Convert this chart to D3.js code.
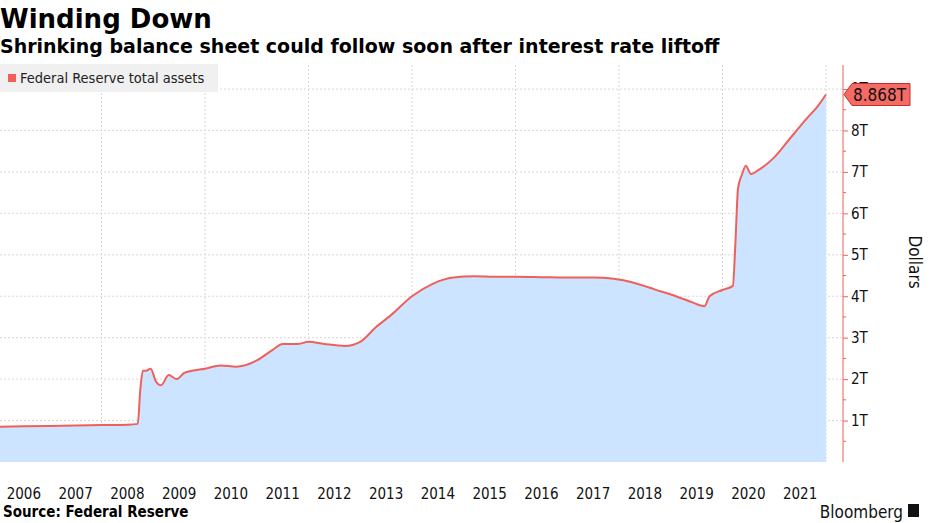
<!DOCTYPE html>
<html><head><meta charset="utf-8">
<script src="https://cdn.jsdelivr.net/npm/d3@7"></script>
<style>body{margin:0;background:#fff}svg{display:block}</style>
</head><body><svg id="c" width="930" height="523"></svg>
<script>
// Fed total assets, trillions, by decimal year
const dates = [2006.0,2006.5,2007.0,2007.5,2008.0,2008.5,2008.7,2008.75,2008.8,2008.85,2008.95,2009.05,2009.15,2009.3,2009.45,2009.6,2009.75,2010.0,2010.3,2010.6,2011.0,2011.3,2011.5,2011.8,2012.0,2012.3,2012.7,2013.0,2013.3,2013.6,2014.0,2014.4,2014.8,2015.2,2015.6,2016.0,2016.5,2017.0,2017.5,2017.9,2018.3,2018.7,2019.1,2019.4,2019.65,2019.75,2020.0,2020.2,2020.25,2020.3,2020.38,2020.45,2020.55,2020.7,2021.0,2021.3,2021.6,2021.85,2022.0];
const assets = [0.85,0.86,0.87,0.88,0.89,0.90,0.92,1.75,2.2,2.2,2.25,1.95,1.85,2.1,2.0,2.15,2.2,2.25,2.33,2.3,2.45,2.7,2.85,2.85,2.9,2.85,2.8,2.9,3.25,3.55,4.0,4.3,4.45,4.48,4.47,4.47,4.46,4.45,4.45,4.42,4.32,4.16,4.0,3.86,3.76,4.0,4.15,4.25,5.3,6.6,6.95,7.15,6.95,7.05,7.35,7.8,8.25,8.6,8.868];
const yTicks = [1,2,3,4,5,6,7,8,9];
const yearLabels = d3.range(2006, 2022);

const svg = d3.select("#c");
const W = 843, plotTop = 65, plotBottom = 462;
const x = d3.scaleLinear().domain([2006, 2022]).range([-2, 826]);
const y = d3.scaleLinear().domain([0, 9.58]).range([plotBottom, plotTop]);
const font = "'DejaVu Sans Condensed', 'DejaVu Sans', sans-serif";

// grid
const g = svg.append("g");
g.selectAll("line.v").data(d3.range(2008, 2023, 2)).join("line")
  .attr("x1", d => x(d)).attr("x2", d => x(d)).attr("y1", plotTop).attr("y2", plotBottom)
  .attr("stroke", "#d8d8d8").attr("stroke-dasharray", "2,2");
g.selectAll("line.h").data(yTicks).join("line")
  .attr("x1", 0).attr("x2", W).attr("y1", d => y(d)).attr("y2", d => y(d))
  .attr("stroke", "#d8d8d8").attr("stroke-dasharray", "2,2");

const pts = dates.map((d, i) => [d, assets[i]]);
g.append("path").datum(pts)
  .attr("d", d3.area().curve(d3.curveMonotoneX).x(d => x(d[0])).y0(plotBottom).y1(d => y(d[1])))
  .attr("fill", "#cce4ff");
g.append("path").datum(pts)
  .attr("d", d3.line().curve(d3.curveMonotoneX).x(d => x(d[0])).y(d => y(d[1])))
  .attr("fill", "none").attr("stroke", "#f0605a").attr("stroke-width", 2);

// right axis
const ax = svg.append("g").attr("transform", `translate(${W},0)`)
  .call(d3.axisRight(y).tickValues(yTicks).tickSize(5).tickPadding(3).tickFormat(d => d + "T"));
ax.select(".domain").remove();
ax.selectAll("line").attr("stroke", "#f0605a");
ax.selectAll("text").attr("font-family", font).attr("font-size", 15).attr("fill", "#111");
svg.append("line").attr("x1", W).attr("x2", W).attr("y1", plotTop).attr("y2", plotBottom).attr("stroke", "#f0605a");
svg.append("g").selectAll("line").data(d3.range(0.5, 9.5, 1)).join("line")
  .attr("x1", W).attr("x2", W + 3).attr("y1", d => y(d)).attr("y2", d => y(d)).attr("stroke", "#f0605a");

// last value callout
const ly = y(assets[assets.length - 1]);
svg.append("path")
  .attr("d", `M${W + 1},${ly} L${W + 9},${ly - 11} L${W + 67},${ly - 11} L${W + 67},${ly + 11} L${W + 9},${ly + 11} Z`)
  .attr("fill", "#f56a64").attr("stroke", "#c0302a");
svg.append("text").attr("x", W + 10).attr("y", ly + 6).text("8.868T")
  .attr("font-family", font).attr("font-size", 17).attr("fill", "#111");

svg.append("text").attr("transform", "translate(909,262) rotate(90)").attr("text-anchor", "middle")
  .attr("font-family", font).attr("font-size", 17).attr("fill", "#111").text("Dollars");

// x labels
svg.append("g").selectAll("text").data(yearLabels).join("text")
  .attr("x", d => x(d + 0.5)).attr("y", 499).attr("text-anchor", "middle")
  .attr("font-family", font).attr("font-size", 15).attr("fill", "#111").text(d => d);

// legend
svg.append("rect").attr("x", 0).attr("y", 64).attr("width", 218).attr("height", 28).attr("fill", "#f0f0f0");
svg.append("rect").attr("x", 8).attr("y", 74).attr("width", 8).attr("height", 8).attr("fill", "#f0605a");
svg.append("text").attr("x", 20).attr("y", 83).text("Federal Reserve total assets")
  .attr("font-family", font).attr("font-size", 14.5).attr("fill", "#222");

// titles
svg.append("text").attr("x", 0).attr("y", 28).text("Winding Down")
  .attr("font-family", "'DejaVu Sans', sans-serif").attr("font-weight", "bold").attr("font-size", 26);
svg.append("text").attr("x", 0).attr("y", 53).text("Shrinking balance sheet could follow soon after interest rate liftoff")
  .attr("font-family", "'DejaVu Sans', sans-serif").attr("font-weight", "bold").attr("font-size", 19);
svg.append("text").attr("x", 3).attr("y", 517).text("Source: Federal Reserve")
  .attr("font-family", font).attr("font-weight", "bold").attr("font-size", 15);
svg.append("text").attr("x", 903).attr("y", 518).attr("text-anchor", "end").text("Bloomberg")
  .attr("font-family", font).attr("font-size", 17).attr("fill", "#111");
svg.append("rect").attr("x", 908).attr("y", 504).attr("width", 11).attr("height", 13).attr("fill", "#111");
</script></body></html>
